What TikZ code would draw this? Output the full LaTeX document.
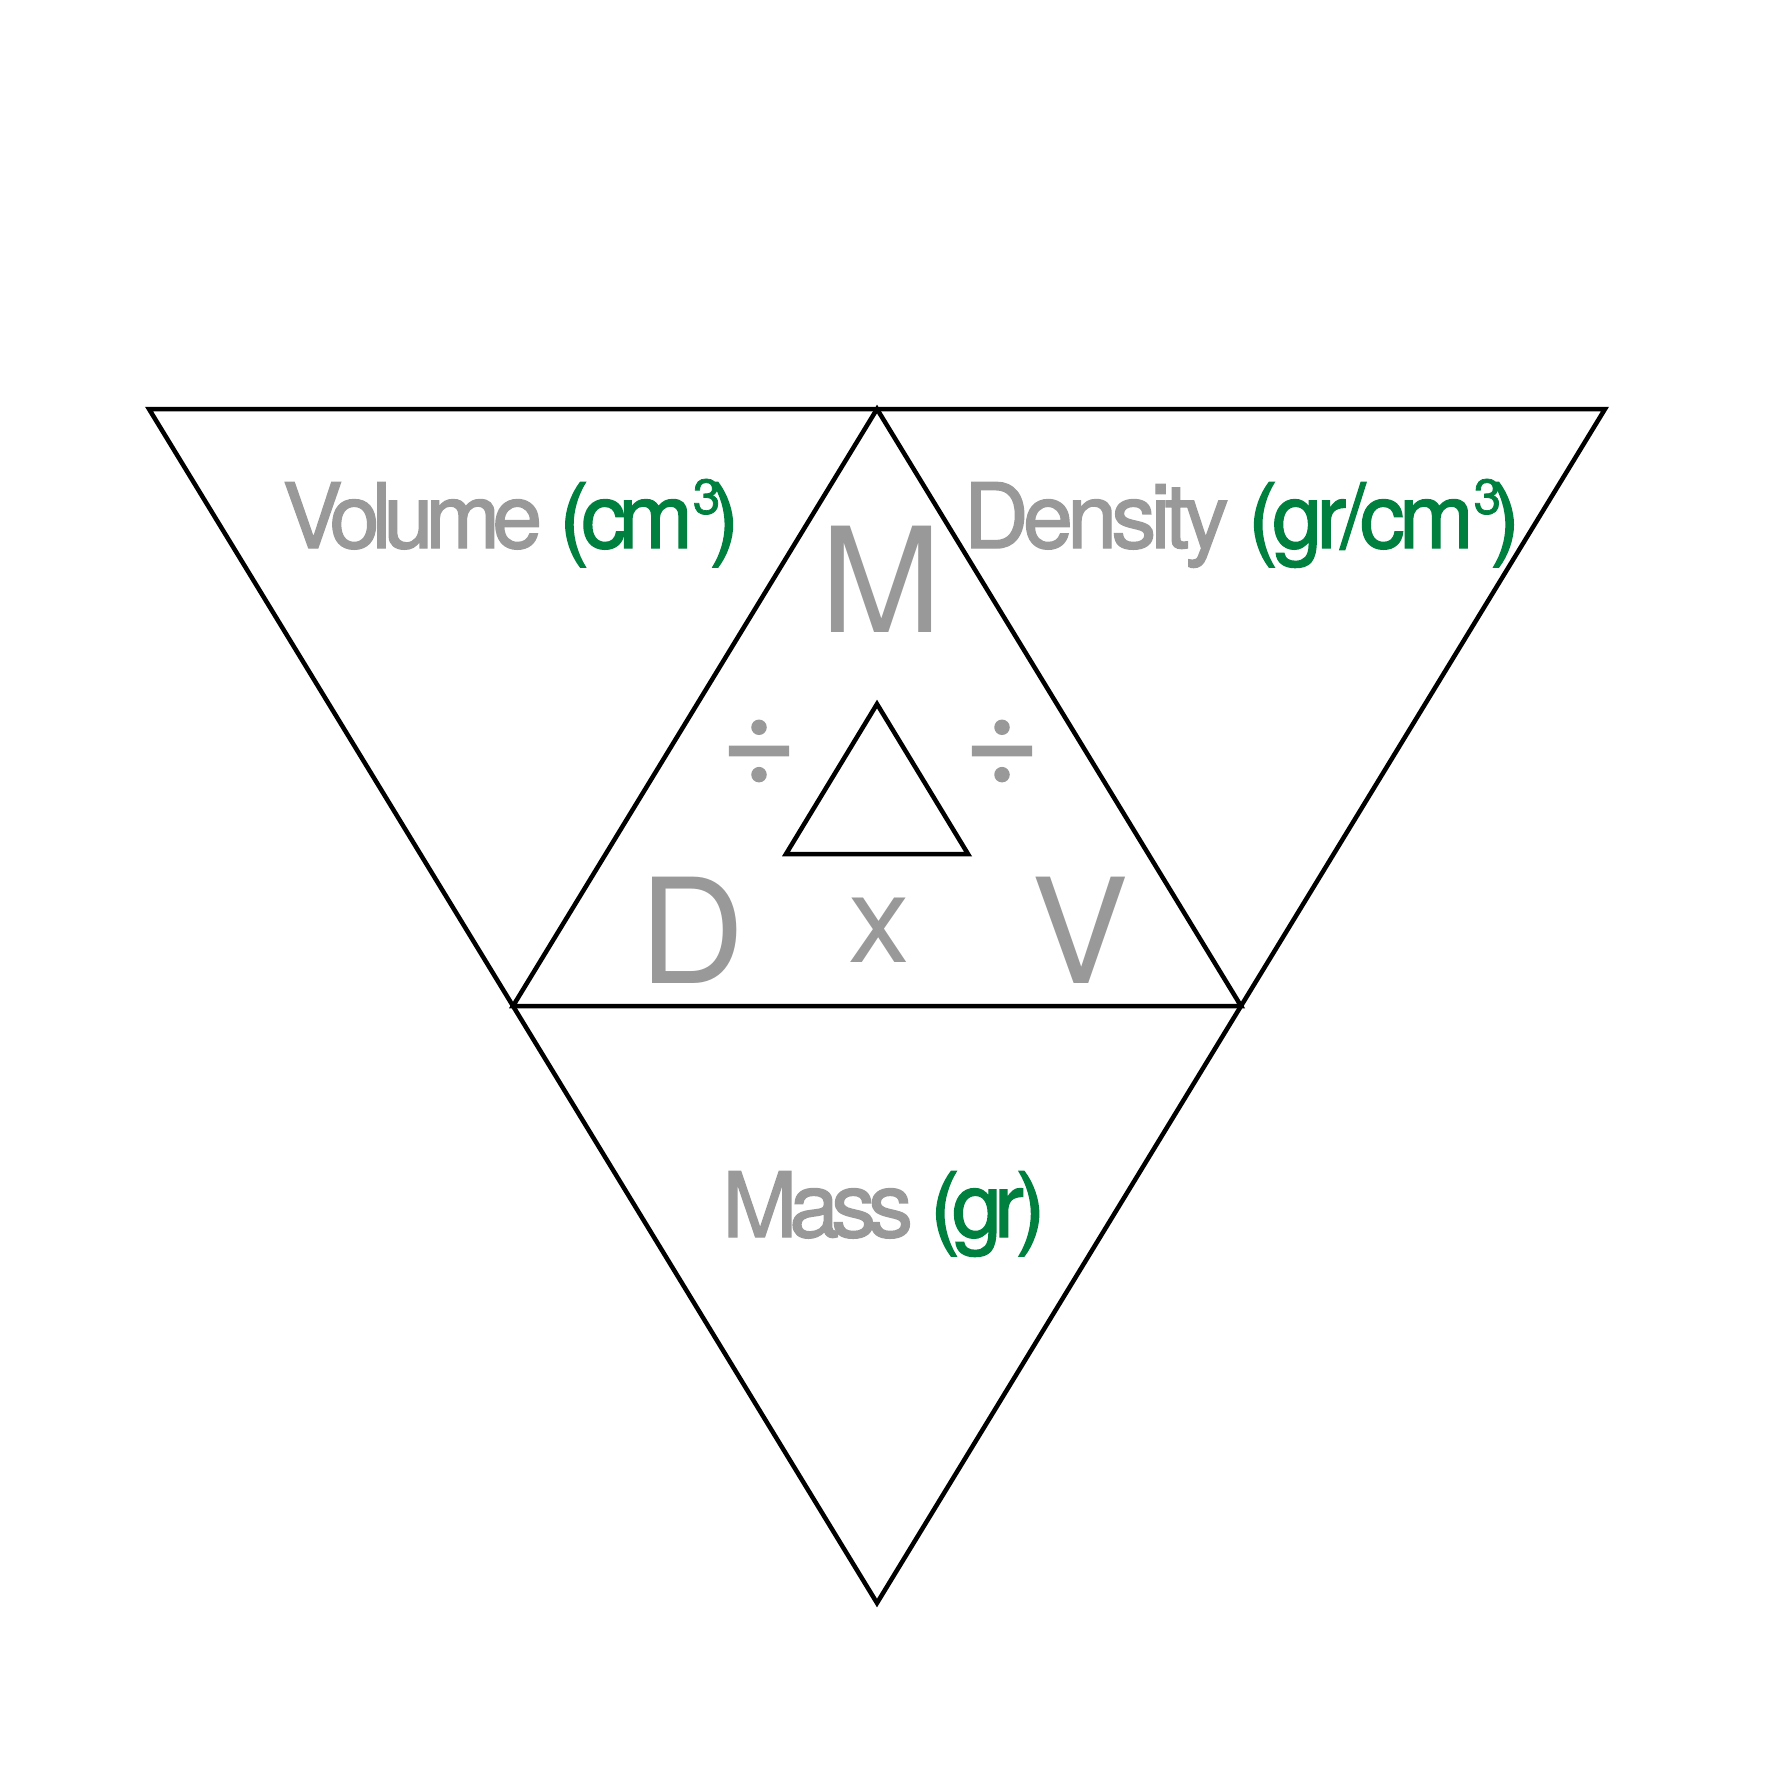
\documentclass[tikz,border=0pt]{standalone}
\usepackage{fontspec}
\usetikzlibrary{calc}
\setmainfont{TeX Gyre Heros}
\newfontfamily\tightfont[LetterSpace=-9,FakeBold=1.5]{TeX Gyre Heros}
\newfontfamily\densfont[LetterSpace=-6.5,FakeBold=1.5]{TeX Gyre Heros}
\newfontfamily\operfont[FakeBold=1.5]{TeX Gyre Heros}
\definecolor{txtgray}{HTML}{999999}
\definecolor{unitgreen}{HTML}{00803F}
\newcommand{\unitcol}[1]{\textcolor{unitgreen}{#1}}
\newcommand{\cubed}{\raisebox{0.38em}{\fontsize{14}{14}\selectfont 3}}
\begin{document}
\begin{tikzpicture}[x=0.01cm,y=-0.01cm,
  edge/.style={draw=black,line width=0.045cm},
  label/.style={inner sep=0pt,anchor=base,text=txtgray,font=\tightfont\fontsize{25.6}{30}\selectfont},
  letter/.style={inner sep=0pt,anchor=base,text=txtgray,font=\fontsize{41.5}{48}\selectfont},
  oper/.style={inner sep=0pt,anchor=center,text=txtgray,font=\operfont\fontsize{37}{42}\selectfont}]
\useasboundingbox (0,0) rectangle (1782,1782);
\coordinate (A) at (149,409);
\coordinate (B) at (1605,409);
\coordinate (C) at (877,1603);
\coordinate (T) at ($(A)!0.5!(B)$);
\coordinate (L) at ($(A)!0.5!(C)$);
\coordinate (R) at ($(B)!0.5!(C)$);
\coordinate (s1) at (877,704);
\coordinate (s2) at (786,854);
\coordinate (s3) at (968,854);
\draw[edge] (A) -- (B) -- (C) -- cycle;
\draw[edge] (T) -- (L) -- (R) -- cycle;
\draw[edge] (s1) -- (s2) -- (s3) -- cycle;
\node[label] (vol) at (511,548) {Volume \unitcol{(cm\cubed\kern-0.12em)}};
\node[label,font=\densfont\fontsize{25.6}{30}\selectfont] (den) at (1242,548) {Density \unitcol{(gr/cm\cubed\kern-0.12em)}};
\node[label] (mass) at (884,1237) {Mass \unitcol{(gr)}};
\node[letter] (M) at (881,632) {M};
\node[letter] (D) at (692,983) {D};
\node[letter] (V) at (1080,983) {V};
\node[inner sep=0pt,anchor=base,text=txtgray,font=\fontsize{35}{40}\selectfont] (x) at (879,962) {x};
\node[oper] (divl) at (759,752) {÷};
\node[oper] (divr) at (1002,752) {÷};
\end{tikzpicture}
\end{document}
